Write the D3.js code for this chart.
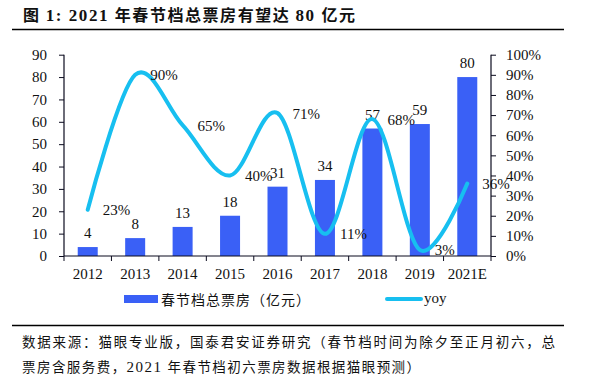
<!DOCTYPE html>
<html><head><meta charset="utf-8">
<script src="https://cdn.jsdelivr.net/npm/d3@7"></script>
<style>body{margin:0;background:#fff}svg{display:block}</style>
</head><body>
<svg id="c" width="589" height="385"></svg>
<script>
const categories = ["2012","2013","2014","2015","2016","2017","2018","2019","2021E"];
const boxOffice = [4, 8, 13, 18, 31, 34, 57, 59, 80];
const yoy = [23, 90, 65, 40, 71, 11, 68, 3, 36];
const leftTicks = [0,10,20,30,40,50,60,70,80,90];
const rightTicks = [0,10,20,30,40,50,60,70,80,90,100];
const legendBar = "春节档总票房（亿元）";
const legendLine = "yoy";
const source1 = "数据来源：猫眼专业版，国泰君安证券研究（春节档时间为除夕至正月初六，总";

const svg = d3.select("#c");
const serif = "'Liberation Serif','Times New Roman',serif";
const cjk = "'Noto Sans CJK SC','Noto Sans CJK JP',sans-serif";
const barColor = "#3a60f6", lineColor = "#17bff0", axisColor = "#0b0b1e";

// title
const t = svg.append("text").attr("x", 23).attr("y", 21)
  .attr("font-size", 16).attr("font-weight", "bold").attr("fill", "#111")
  .attr("textLength", 332).attr("lengthAdjust", "spacing");
t.append("tspan").attr("font-family", cjk).text("图 ");
t.append("tspan").attr("font-family", serif).attr("font-size", 17).text("1:  2021 ");
t.append("tspan").attr("font-family", cjk).text("年春节档总票房有望达 ");
t.append("tspan").attr("font-family", serif).attr("font-size", 17).text("80 ");
t.append("tspan").attr("font-family", cjk).text("亿元");
svg.append("line").attr("x1", 12).attr("x2", 564).attr("y1", 29.5).attr("y2", 29.5)
  .attr("stroke", "#000").attr("stroke-width", 1.3);

const x0 = 64, x1 = 491, yTop = 54.7, yBot = 256;
const xc = d3.scaleBand().domain(categories).range([x0, x1]);
const yL = d3.scaleLinear().domain([0, 90]).range([yBot, yTop]);
const yR = d3.scaleLinear().domain([0, 100]).range([yBot, yTop]);

// bars
svg.append("g").selectAll("rect").data(categories).join("rect")
  .attr("x", d => xc(d) + xc.bandwidth()/2 - 10)
  .attr("width", 20)
  .attr("y", (d,i) => yL(boxOffice[i]))
  .attr("height", (d,i) => yBot - yL(boxOffice[i]))
  .attr("fill", barColor);

// bar labels
svg.append("g").selectAll("text").data(categories).join("text")
  .attr("x", d => xc(d) + xc.bandwidth()/2)
  .attr("y", (d,i) => yL(boxOffice[i]) - 9)
  .attr("text-anchor", "middle").attr("font-family", serif).attr("font-size", 15)
  .attr("fill", "#111").text((d,i) => boxOffice[i]);

// line
const pts = categories.map((d,i) => [xc(d) + xc.bandwidth()/2, yR(yoy[i])]);
svg.append("path").attr("d", d3.line().curve(d3.curveCardinal.tension(0))(pts))
  .attr("fill", "none").attr("stroke", lineColor).attr("stroke-width", 4)
  .attr("stroke-linecap", "round");

// yoy labels
svg.append("g").selectAll("text").data(pts).join("text")
  .attr("x", d => d[0] + 15).attr("y", d => d[1] + 5.5)
  .attr("font-family", serif).attr("font-size", 15).attr("fill", "#111")
  .text((d,i) => yoy[i] + "%");

// axes
const axL = d3.axisLeft(yL).tickValues(leftTicks).tickSize(5).tickPadding(12);
const gL = svg.append("g").attr("transform", `translate(${x0},0)`).call(axL);
const axR = d3.axisRight(yR).tickValues(rightTicks).tickSize(5).tickPadding(10).tickFormat(d => d + "%");
const gR = svg.append("g").attr("transform", `translate(${x1},0)`).call(axR);
const axB = d3.axisBottom(xc).tickSize(5).tickPadding(7).tickSizeOuter(0);
const gB = svg.append("g").attr("transform", `translate(0,${yBot})`).call(axB);
gB.selectAll(".tick line").remove();
gB.append("g").selectAll("line").data(categories.concat(["end"])).join("line")
  .attr("x1", (d,i) => x0 + i * xc.step()).attr("x2", (d,i) => x0 + i * xc.step())
  .attr("y1", 0).attr("y2", 5).attr("stroke", axisColor);
[gL, gR, gB].forEach(g => {
  g.selectAll("path.domain").attr("stroke", axisColor).attr("stroke-width", 1.2);
  g.selectAll("line").attr("stroke", axisColor);
  g.selectAll("text").attr("font-family", serif).attr("font-size", 15).attr("fill", "#111");
});
gL.select("path.domain").attr("d", `M0,${yTop}V${yBot}`);
gR.select("path.domain").attr("d", `M0,${yTop}V${yBot}`);
gB.select("path.domain").attr("d", `M${x0},0H${x1}`);

// legend
svg.append("rect").attr("x", 124).attr("y", 295).attr("width", 34).attr("height", 8).attr("fill", barColor);
svg.append("text").attr("x", 161).attr("y", 304.5).attr("font-family", cjk).attr("font-size", 14)
  .attr("textLength", 149).attr("fill", "#111").text(legendBar);
svg.append("line").attr("x1", 387).attr("x2", 421).attr("y1", 299).attr("y2", 299)
  .attr("stroke", lineColor).attr("stroke-width", 4).attr("stroke-linecap", "round");
svg.append("text").attr("x", 424).attr("y", 303).attr("font-family", serif).attr("font-size", 15)
  .attr("fill", "#111").text(legendLine);

// source
svg.append("line").attr("x1", 12).attr("x2", 564).attr("y1", 325.5).attr("y2", 325.5)
  .attr("stroke", "#000").attr("stroke-width", 1.3);
svg.append("text").attr("x", 22).attr("y", 347).attr("font-family", cjk).attr("font-size", 13.5)
  .attr("textLength", 533).attr("fill", "#111").text(source1);
const s2 = svg.append("text").attr("x", 22).attr("y", 372).attr("font-size", 13.5).attr("fill", "#111")
  .attr("textLength", 398).attr("lengthAdjust", "spacing");
s2.append("tspan").attr("font-family", cjk).text("票房含服务费，");
s2.append("tspan").attr("font-family", serif).attr("font-size", 15).text("2021 ");
s2.append("tspan").attr("font-family", cjk).text("年春节档初六票房数据根据猫眼预测）");
</script>
</body></html>
